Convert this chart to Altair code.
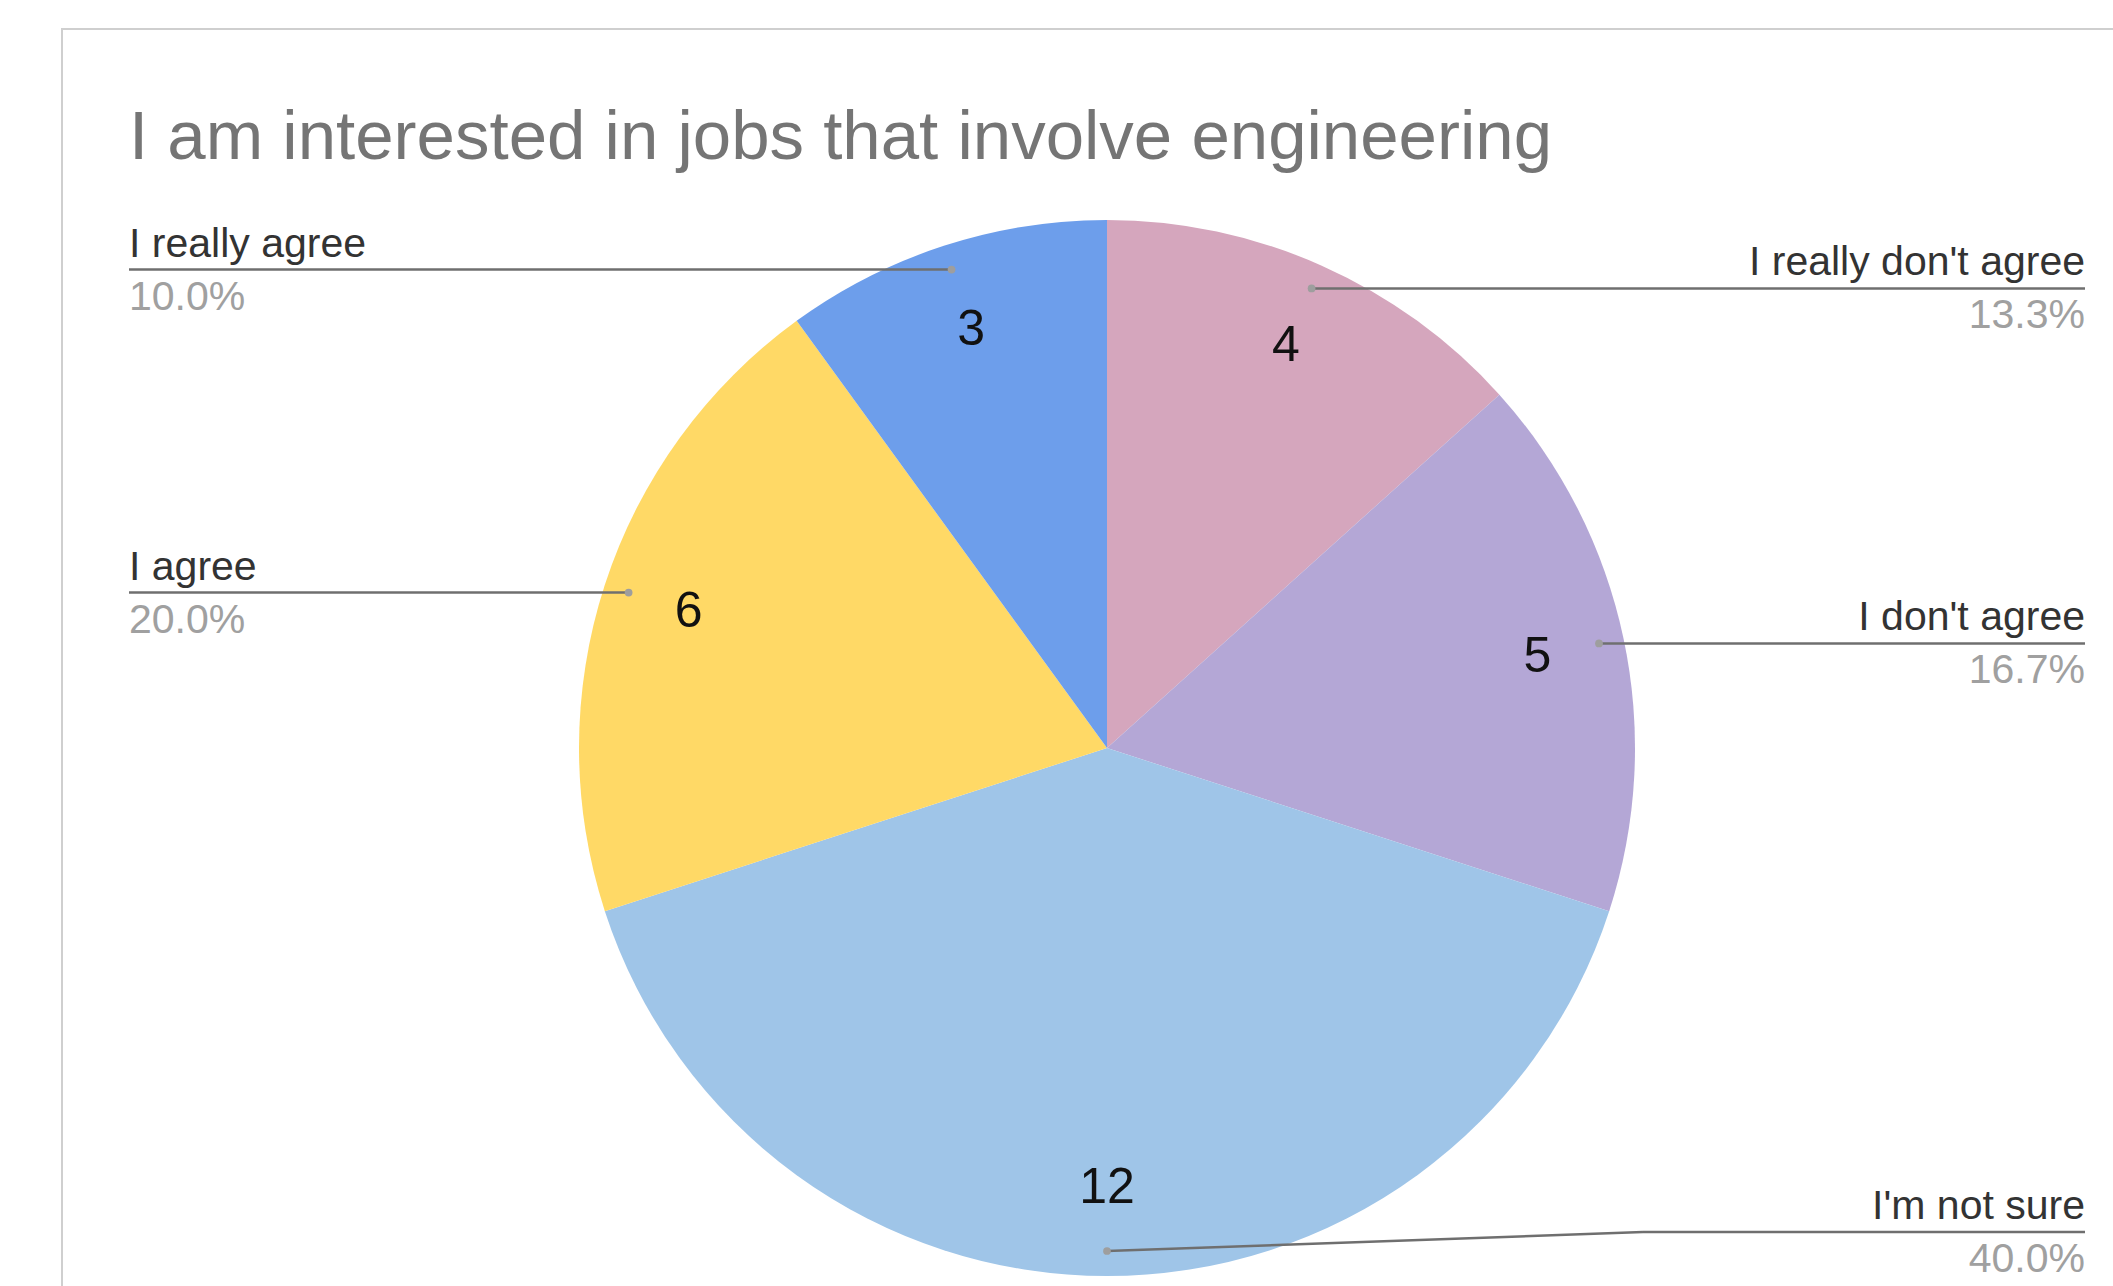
import altair as alt
import pandas as pd

# ---- data ----
TITLE = "I am interested in jobs that involve engineering"
categories = ["I really don't agree", "I don't agree", "I'm not sure", "I agree", "I really agree"]
counts = [4, 5, 12, 6, 3]
slice_order = [1, 2, 3, 4, 5]
colors = ["#D5A6BD", "#B4A7D6", "#9FC5E8", "#FFD966", "#6D9EEB"]

# ---- layout (pixels) ----
W, H = 2113, 1286
CX, CY = 1107, 748          # pie centre
R = 528                     # pie radius
R_NUM = 440                 # radius of the count labels
R_DOT = 503                 # radius of the leader-line dots
LEFT_X, RIGHT_X = 129, 2085 # label anchors
MAX_LABEL_Y = 1232          # lowest allowed leader line
FONT = "Liberation Sans"

df = pd.DataFrame({"cat": categories, "count": counts, "order": slice_order})

base = alt.Chart(df)

pie = base.mark_arc(outerRadius=R, stroke=None).encode(
    theta=alt.Theta("count:Q", stack=True),
    color=alt.Color("cat:N", scale=alt.Scale(domain=categories, range=colors), legend=None),
    order=alt.Order("order:Q"),
    x=alt.value(CX),
    y=alt.value(CY),
)

nums = base.mark_text(radius=R_NUM, font=FONT, fontSize=50, color="#111111",
                      baseline="middle", align="center").encode(
    theta=alt.Theta("count:Q", stack=True),
    order=alt.Order("order:Q"),
    text=alt.Text("count:Q"),
    x=alt.value(CX),
    y=alt.value(CY),
)

# geometry of the leader lines, computed from the data
geo = base.transform_joinaggregate(
    total="sum(count)"
).transform_window(
    cum="sum(count)", sort=[alt.SortField("order")], frame=[None, 0]
).transform_calculate(
    mid="(datum.cum - datum.count / 2) / datum.total * 2 * PI",
    pct="format(datum.count / datum.total, '.1%')",
).transform_calculate(
    dotX=f"{CX} + {R_DOT} * sin(datum.mid)",
    dotY=f"{CY} - {R_DOT} * cos(datum.mid)",
    side="sin(datum.mid) > -0.001 ? 'right' : 'left'",
).transform_calculate(
    ly=f"min(datum.dotY, {MAX_LABEL_Y})",
    lx=f"datum.side == 'right' ? {RIGHT_X} : {LEFT_X}",
).transform_calculate(
    bendX=f"datum.ly < datum.dotY - 0.5 ? (datum.side == 'right' ? {CX + R + 8} : {CX - R - 8}) : datum.dotX",
    nameY="datum.ly - 13",
    pctY="datum.ly + 40",
)

seg1 = geo.mark_rule(color="#6f6f6f", strokeWidth=2.5).encode(
    x=alt.X("dotX:Q", scale=None), y=alt.Y("dotY:Q", scale=None),
    x2="bendX:Q", y2="ly:Q",
)
seg2 = geo.mark_rule(color="#6f6f6f", strokeWidth=2.5).encode(
    x=alt.X("bendX:Q", scale=None), y=alt.Y("ly:Q", scale=None),
    x2="lx:Q", y2="ly:Q",
)
dots = geo.mark_circle(size=60, color="#9e9e9e", opacity=1).encode(
    x=alt.X("dotX:Q", scale=None), y=alt.Y("dotY:Q", scale=None),
)

def labels(side, align):
    g = geo.transform_filter(f"datum.side == '{side}'")
    name = g.mark_text(font=FONT, fontSize=41, color="#333333", align=align,
                       baseline="alphabetic").encode(
        x=alt.X("lx:Q", scale=None), y=alt.Y("nameY:Q", scale=None), text="cat:N")
    pct = g.mark_text(font=FONT, fontSize=41, color="#a0a0a0", align=align,
                      baseline="alphabetic").encode(
        x=alt.X("lx:Q", scale=None), y=alt.Y("pctY:Q", scale=None), text="pct:N")
    return name + pct

frame = alt.Chart(pd.DataFrame({"a": [0]})).mark_rect(
    fill="white", stroke="#cfcfcf", strokeWidth=2
).encode(x=alt.value(62), y=alt.value(29), x2=alt.value(W + 40), y2=alt.value(H + 40))

title = alt.Chart(pd.DataFrame({"t": [TITLE]})).mark_text(
    font=FONT, fontSize=69, color="#757575", align="left", baseline="alphabetic"
).encode(text="t:N", x=alt.value(129), y=alt.value(159))

chart = alt.layer(
    frame, title, pie, nums, seg1, seg2, dots, labels("left", "left"), labels("right", "right")
).properties(
    width=W, height=H, padding=0, autosize=alt.AutoSizeParams(type="none"),
    background="white",
).configure_view(stroke=None)

chart.save("out.html", embed_options={"renderer": "svg", "actions": False})
